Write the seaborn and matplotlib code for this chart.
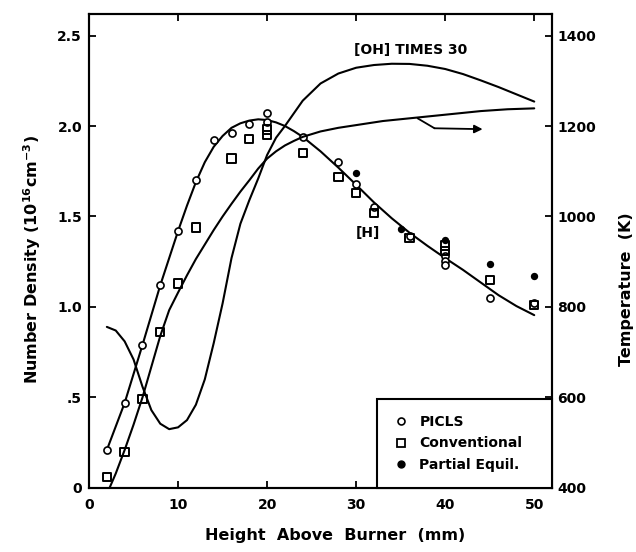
import matplotlib
matplotlib.use("Agg")
import matplotlib.pyplot as plt
import seaborn as sns
import pandas as pd
from matplotlib.lines import Line2D

# ---------------- data ----------------
picls_x = [2, 4, 6, 8, 10, 12, 14, 16, 18, 20, 20, 24, 28, 30, 32, 36, 40, 40, 40, 45, 50]
picls_y = [0.21, 0.47, 0.79, 1.12, 1.42, 1.70, 1.92, 1.96, 2.01, 2.07, 2.02, 1.94, 1.80,
           1.68, 1.55, 1.39, 1.28, 1.255, 1.23, 1.05, 1.02]

conv_x = [2, 4, 6, 8, 10, 12, 16, 18, 20, 20, 24, 28, 30, 32, 36, 40, 40, 45, 50]
conv_y = [0.06, 0.20, 0.49, 0.86, 1.13, 1.44, 1.82, 1.93, 1.95, 1.98, 1.85, 1.72,
          1.63, 1.52, 1.38, 1.34, 1.31, 1.15, 1.01]

peq_x = [30, 35, 40, 45, 50]
peq_y = [1.74, 1.43, 1.37, 1.24, 1.17]

# [H] curve (number density)
h_x = [2, 4, 6, 8, 10, 11, 12, 13, 14, 15, 16, 17, 18, 19, 20, 21, 22, 23, 24, 26,
       28, 30, 32, 34, 36, 38, 40, 42, 44, 46, 48, 50]
h_y = [0.21, 0.47, 0.79, 1.12, 1.42, 1.56, 1.69, 1.80, 1.885, 1.945, 1.99, 2.015, 2.03,
       2.037, 2.033, 2.02, 2.00, 1.972, 1.94, 1.86, 1.77, 1.675, 1.578, 1.49, 1.41,
       1.338, 1.27, 1.205, 1.135, 1.065, 1.005, 0.955]

# [OH] x 30 curve (number density)
oh_x = [2, 3, 4, 5, 6, 7, 8, 9, 10, 11, 12, 13, 14, 15, 16, 17, 18, 19, 20, 21, 22,
        23, 24, 26, 28, 30, 32, 34, 36, 38, 40, 42, 44, 46, 48, 50]
oh_y = [0.89, 0.87, 0.81, 0.71, 0.56, 0.43, 0.355, 0.325, 0.335, 0.375, 0.46, 0.60,
        0.80, 1.02, 1.27, 1.46, 1.59, 1.71, 1.84, 1.935, 2.0, 2.07, 2.14, 2.235, 2.29,
        2.322, 2.337, 2.344, 2.343, 2.333, 2.315, 2.287, 2.252, 2.215, 2.175, 2.135]

# temperature curve (K, right axis)
t_x = [2.3, 3, 4, 5, 6, 7, 8, 9, 10, 11, 12, 13, 14, 15, 16, 17, 18, 19, 20, 21, 22,
       23, 24, 26, 28, 30, 33, 37, 40, 44, 47, 50]
t_k = [400, 432, 484, 540, 600, 668, 736, 793, 832, 870, 906, 938, 970, 1000, 1028,
       1055, 1080, 1106, 1128, 1144, 1157, 1167, 1176, 1188, 1196, 1202, 1211, 1219,
       1225, 1233, 1237, 1239]

arrow_x = [36.9, 38.8, 44.2]
arrow_k = [1217, 1195, 1193]

x_ticks = [0, 10, 20, 30, 40, 50]
x_ticklabels = ["0", "10", "20", "30", "40", "50"]
y_ticks = [0, 0.5, 1.0, 1.5, 2.0, 2.5]
y_ticklabels = ["0", ".5", "1.0", "1.5", "2.0", "2.5"]
t_ticks = [400, 600, 800, 1000, 1200, 1400]
t_ticklabels = ["400", "600", "800", "1000", "1200", "1400"]
legend_labels = ["PICLS", "Conventional", "Partial Equil."]

# ---------------- figure ----------------
sns.set_style("ticks")
plt.rcParams["font.family"] = ["DejaVu Sans"]
plt.rcParams["font.weight"] = "bold"
plt.rcParams["axes.labelcolor"] = "black"
plt.rcParams["text.color"] = "black"

fig = plt.figure(figsize=(6.36, 5.52), dpi=100)
ax = fig.add_axes([0.140, 0.116, 0.728, 0.859])
ax2 = ax.twinx()

lw = 1.5
sns.lineplot(x=h_x, y=h_y, ax=ax, color="black", lw=lw, sort=False, estimator=None)
sns.lineplot(x=oh_x, y=oh_y, ax=ax, color="black", lw=lw, sort=False, estimator=None)
sns.lineplot(x=t_x, y=t_k, ax=ax2, color="black", lw=lw, sort=False, estimator=None)

sns.scatterplot(x=picls_x, y=picls_y, ax=ax, marker="o", s=26,
                facecolor="white", edgecolor="black", linewidth=1.2, zorder=5)
sns.scatterplot(x=conv_x, y=conv_y, ax=ax, marker="s", s=36,
                facecolor="none", edgecolor="black", linewidth=1.4, zorder=5)
sns.scatterplot(x=peq_x, y=peq_y, ax=ax, marker="o", s=28,
                color="black", edgecolor="black", linewidth=0, zorder=5)

# arrow pointing to the temperature axis
ax2.plot(arrow_x[:2], arrow_k[:2], color="black", lw=1.3)
ax2.annotate("", xy=(arrow_x[2], arrow_k[2]), xytext=(arrow_x[1], arrow_k[1]),
             arrowprops=dict(arrowstyle="-|>", color="black", lw=1.3,
                             mutation_scale=12, shrinkA=0, shrinkB=0))

ax.text(36.1, 2.42, "[OH] TIMES 30", ha="center", va="center", fontsize=10,
        fontweight="bold", color="black")
ax.text(31.35, 1.41, "[H]", ha="center", va="center", fontsize=10, fontweight="bold",
        color="black")

# axes
ax.set_xlim(0, 52)
ax.set_ylim(0, 2.62)
ax2.set_ylim(400, 1448)
ax.set_xticks(x_ticks)
ax.set_xticklabels(x_ticklabels)
ax.set_yticks(y_ticks)
ax.set_yticklabels(y_ticklabels)
ax2.set_yticks(t_ticks)
ax2.set_yticklabels(t_ticklabels)

for a in (ax, ax2):
    for s in a.spines.values():
        s.set_visible(True)
        s.set_linewidth(1.5)
        s.set_color("black")
ax.tick_params(axis="x", direction="in", top=True, length=5, width=1.3, pad=7,
               labelsize=10, colors="black")
ax.tick_params(axis="y", direction="in", length=5, width=1.3, pad=5,
               labelsize=10, colors="black")
ax2.tick_params(axis="y", direction="in", length=5, width=1.3, pad=4,
                labelsize=10, colors="black")

lab_fs = 11.5
ax.set_xlabel("Height  Above  Burner  (mm)", fontsize=lab_fs, fontweight="bold",
              color="black")
ax.set_ylabel("Number Density (10$^{\\mathbf{16}}$cm$^{\\mathbf{-3}}$)", fontsize=lab_fs,
              fontweight="bold", color="black")
ax2.set_ylabel("Temperature  (K)", fontsize=lab_fs, fontweight="bold", color="black")
ax.xaxis.set_label_coords(0.531, -0.084)
ax.yaxis.set_label_coords(-0.099, 0.481)
ax2.yaxis.set_label_coords(1.145, 0.42)

handles = [
    Line2D([], [], ls="none", marker="o", ms=5, mfc="white", mec="black", mew=1.2),
    Line2D([], [], ls="none", marker="s", ms=6, mfc="white", mec="black", mew=1.3),
    Line2D([], [], ls="none", marker="o", ms=5, mfc="black", mec="black"),
]
leg = ax2.legend(handles, legend_labels, loc="lower left",
                 bbox_to_anchor=(0.622, 0.0, 0.378, 0.19), mode="expand",
                 frameon=True, fancybox=False, edgecolor="black", framealpha=1,
                 borderaxespad=0, fontsize=10, handlelength=1.2, handletextpad=0.7,
                 borderpad=1.15, labelspacing=0.54)
leg.get_frame().set_linewidth(1.5)
for t in leg.get_texts():
    t.set_fontweight("bold")
    t.set_color("black")

fig.savefig("out.png", dpi=100, facecolor="white")
